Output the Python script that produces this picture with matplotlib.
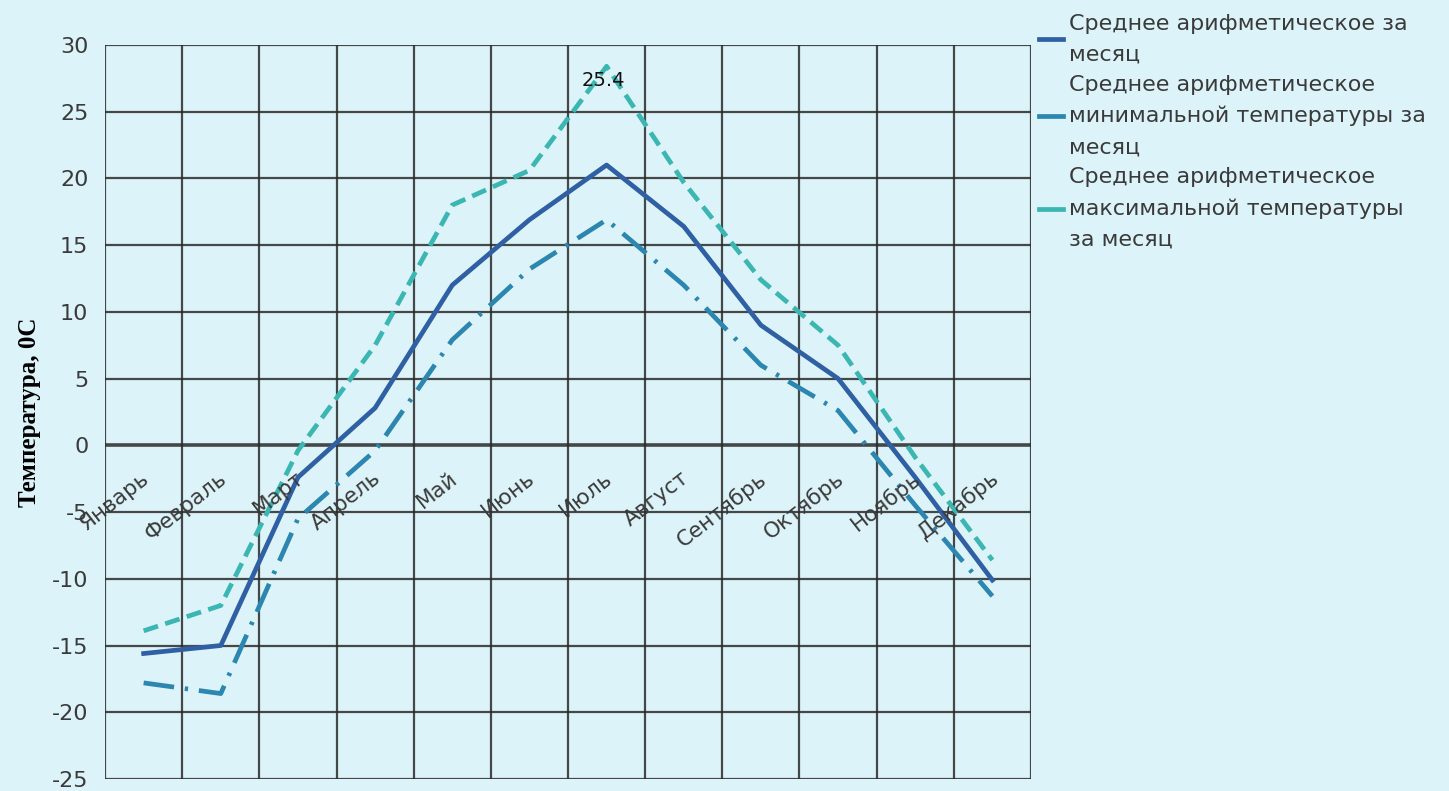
import numpy as np
import matplotlib.pyplot as plt
from matplotlib.lines import Line2D

months = ["Январь", "Февраль", "Март", "Апрель", "Май", "Июнь",
          "Июль", "Август", "Сентябрь", "Октябрь", "Ноябрь", "Декабрь"]
t_mean = [-15.6, -15.0, -2.4, 2.8, 12.0, 16.9, 21.0, 16.4, 9.0, 5.0, -2.4, -10.1]
t_min = [-17.8, -18.6, -5.5, -0.4, 7.9, 13.2, 16.9, 12.0, 6.0, 2.6, -4.5, -11.3]
t_max = [-13.9, -12.0, -0.4, 7.5, 18.0, 20.6, 28.4, 19.7, 12.4, 7.5, -0.9, -8.6]
series_names = ["Среднее арифметическое за\nмесяц",
                "Среднее арифметическое\nминимальной температуры за\nмесяц",
                "Среднее арифметическое\nмаксимальной температуры\nза месяц"]
peak_label = "25.4"

bg = "#dcf4f9"
c_mean = "#3060a4"
c_min = "#2b86b0"
c_max = "#3bb6b2"
grid_c = "#2a2a2a"
txt_c = "#3a3a3a"

plt.rcParams['font.family'] = ['DejaVu Sans']
plt.rcParams['axes.unicode_minus'] = False

fig = plt.figure(figsize=(14.49, 7.91), dpi=100, facecolor=bg)
ax = fig.add_axes([0.0725, 0.0152, 0.639, 0.928])
ax.set_facecolor(bg)

x = np.arange(len(months))

## grid
for yv in range(-25, 31, 5):
    ax.axhline(yv, color=grid_c, lw=2.6 if yv == 0 else 1.6, alpha=0.85, zorder=1)
for xv in np.arange(-0.5, len(months) + 0.5, 1):
    ax.axvline(xv, color=grid_c, lw=1.6, alpha=0.85, zorder=1)

## series
ax.plot(x, t_mean, color=c_mean, lw=3.4, solid_joinstyle='round', zorder=4)
ax.plot(x, t_min, color=c_min, lw=3.4, dashes=(6.5, 2.3, 0.7, 2.3), zorder=3)
ax.plot(x, t_max, color=c_max, lw=3.4, dashes=(3.2, 1.6), zorder=3)

ax.text(x[6] - 0.33, 27.3, peak_label, fontsize=14, color="#111111",
        ha='left', va='center', zorder=5)

## month labels across the zero line
for i, m in enumerate(months):
    ax.text(i - 0.04, -1.7, m, rotation=38, rotation_mode='anchor',
            ha='right', va='top', fontsize=15.5, color=txt_c, zorder=5)

ax.set_xlim(-0.5, len(months) - 0.5)
ax.set_ylim(-25, 30)
ax.set_xticks([])
ax.set_yticks(range(-25, 31, 5))
ax.tick_params(axis='y', length=0, pad=12, labelsize=16, labelcolor=txt_c)
for s in ax.spines.values():
    s.set_visible(False)

ax.set_ylabel("Температура, 0С", fontsize=18, fontweight='bold',
              family=['Liberation Serif', 'DejaVu Serif'], labelpad=8)

## legend
handles = [Line2D([], [], color=c_mean, lw=3.4),
           Line2D([], [], color=c_min, lw=3.4),
           Line2D([], [], color=c_max, lw=3.4)]
leg = fig.legend(handles, series_names, loc='upper left', bbox_to_anchor=(0.703, 1.008),
                 frameon=False, fontsize=16, handlelength=1.1, handletextpad=0.25,
                 labelspacing=0.45, labelcolor=txt_c)
for t in leg.get_texts():
    t.set_linespacing(1.68)

fig.savefig("out.png", dpi=100, facecolor=bg)
